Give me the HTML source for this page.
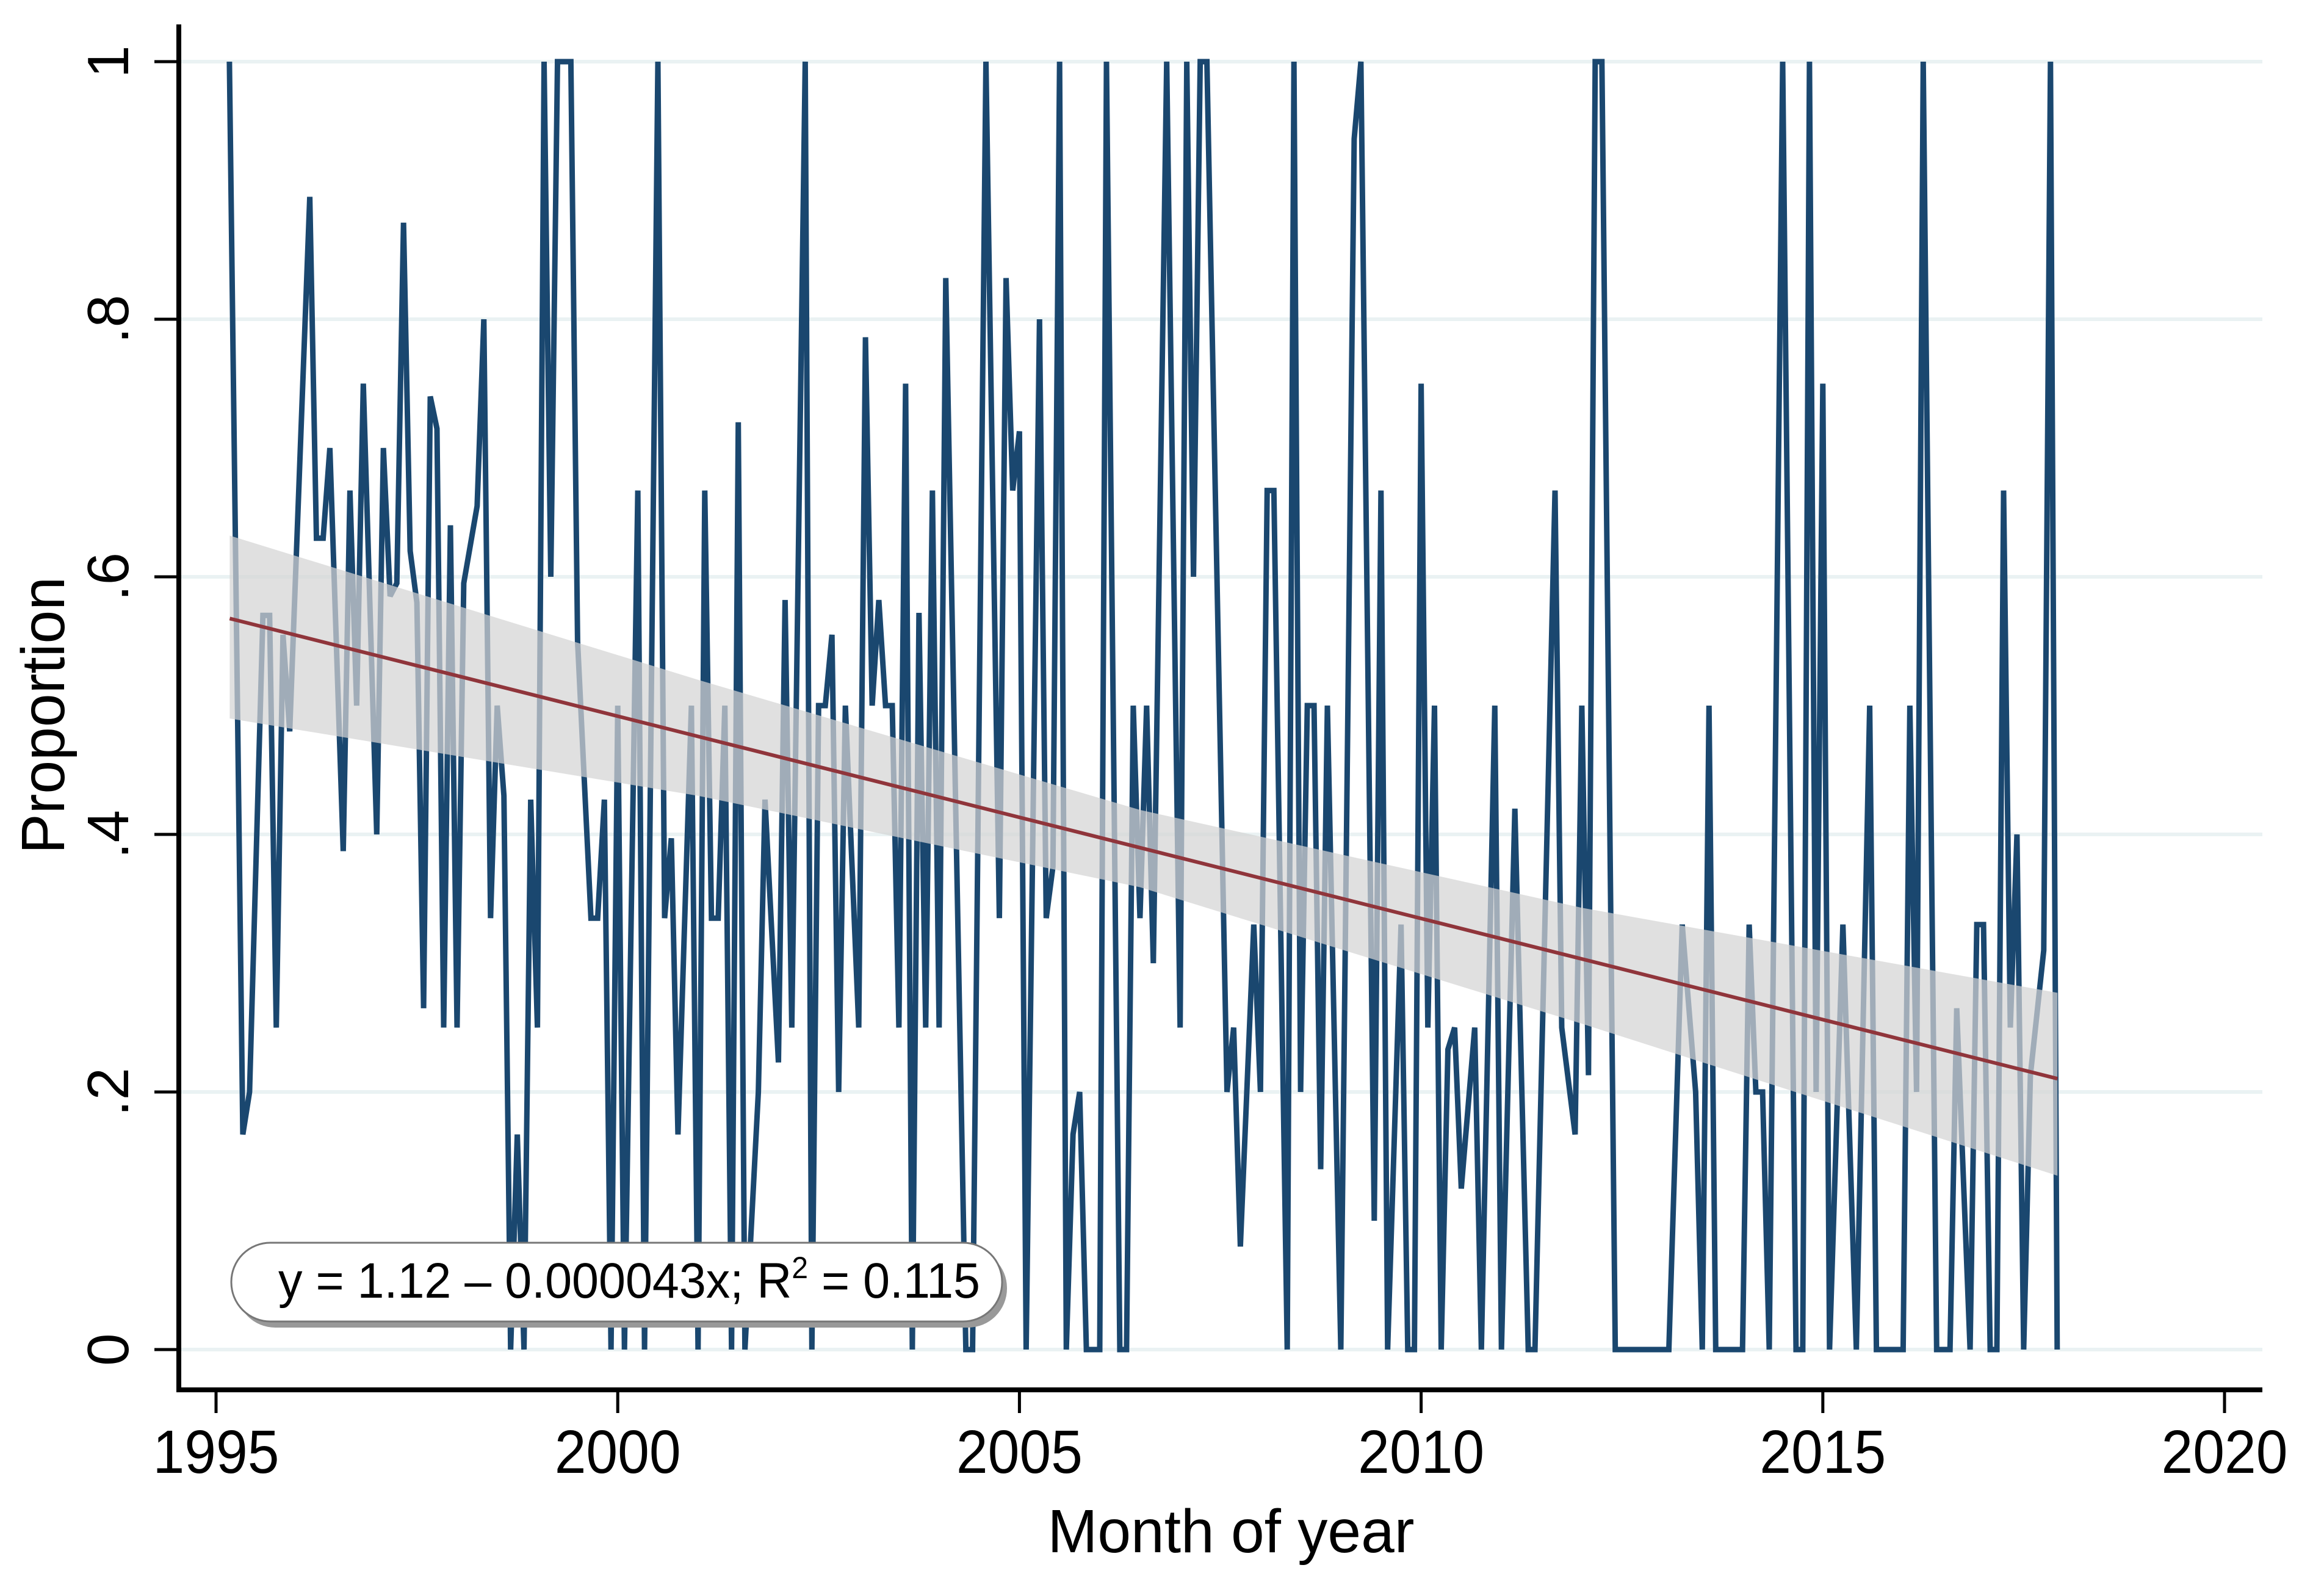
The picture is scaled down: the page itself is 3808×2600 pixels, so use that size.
<!DOCTYPE html>
<html><head><meta charset="utf-8"><style>
html,body{margin:0;padding:0;background:#fff;}
svg{display:block;}
text{font-family:"Liberation Sans",Arial,sans-serif;fill:#000;}
</style></head><body>
<svg id="chart" width="3808" height="2600" viewBox="0 0 3808 2600" xmlns="http://www.w3.org/2000/svg">
<rect x="0" y="0" width="3808" height="2600" fill="#fff"/>
<g id="grid"></g>
<g id="series"></g>
<g id="band"></g>
<g id="fit"></g>
<g id="axes"></g>
<g>
<rect x="387" y="2046" width="1263" height="129" rx="64" ry="64" fill="#999"/>
<rect x="379" y="2036" width="1263" height="129" rx="64" ry="64" fill="#fff" stroke="#777" stroke-width="3"/>
<text x="456" y="2126" font-size="82" textLength="1150" lengthAdjust="spacingAndGlyphs">y = 1.12 – 0.000043x; R<tspan font-size="50" dy="-32">2</tspan><tspan dy="32"> = 0.115</tspan></text>
</g>
<text x="2017" y="2543" font-size="100" text-anchor="middle" textLength="601" lengthAdjust="spacingAndGlyphs">Month of year</text>
<text transform="translate(105,1172) rotate(-90)" font-size="100" text-anchor="middle" textLength="454" lengthAdjust="spacingAndGlyphs">Proportion</text>
</svg>
<script>
// ---- data ----
const monthIdx = [2,4,5,7,8,9,10,11,14,15,16,17,19,20,21,22,24,25,26,27,28,29,30,31,32,33,34,35,36,37,39,40,41,42,43,44,45,46,47,48,49,50,51,53,54,56,57,58,59,60,61,63,64,66,67,68,69,71,72,73,74,75,76,77,78,79,80,81,82,84,85,86,88,89,90,91,92,93,94,96,97,98,99,100,101,102,103,104,105,106,107,108,109,112,113,115,117,118,119,120,121,123,124,125,126,127,128,129,130,132,133,135,136,137,138,139,140,142,144,145,146,147,148,151,152,153,155,156,157,158,160,161,162,163,164,165,166,168,170,171,173,174,175,177,178,179,180,181,182,183,184,185,186,188,189,191,192,194,196,197,200,201,203,204,205,206,207,209,217,219,221,222,223,224,228,229,230,231,232,234,236,237,238,239,240,241,243,245,247,248,252,253,254,255,257,259,260,262,263,264,265,266,267,268,269,270,271,273,274,275];
const proportion = [1.0,0.167,0.2,0.57,0.57,0.25,0.555,0.48,0.895,0.63,0.63,0.70,0.387,0.667,0.5,0.75,0.40,0.70,0.585,0.595,0.875,0.62,0.58,0.265,0.74,0.715,0.25,0.64,0.25,0.595,0.655,0.8,0.335,0.5,0.43,0,0.167,0,0.427,0.25,1.0,0.6,1.0,1.0,0.55,0.335,0.335,0.427,0,0.5,0,0.667,0,1.0,0.335,0.397,0.167,0.5,0,0.667,0.335,0.335,0.5,0,0.72,0,0.1,0.2,0.427,0.223,0.582,0.25,1.0,0,0.5,0.5,0.555,0.2,0.5,0.25,0.786,0.5,0.582,0.5,0.5,0.25,0.75,0,0.572,0.25,0.667,0.25,0.832,0,0,1.0,0.335,0.832,0.667,0.713,0,0.8,0.335,0.375,1.0,0,0.167,0.2,0,0,1.0,0,0,0.5,0.335,0.5,0.3,1.0,0.25,1.0,0.6,1.0,1.0,0.2,0.25,0.08,0.33,0.2,0.667,0.667,0,1.0,0.2,0.5,0.5,0.14,0.5,0,0.94,1.0,0.1,0.667,0,0.33,0,0,0.75,0.25,0.5,0,0.233,0.25,0.125,0.25,0,0.5,0,0.42,0,0,0.667,0.25,0.167,0.5,0.213,1.0,1.0,0,0,0.33,0.2,0,0.5,0,0,0.33,0.2,0.2,0,1.0,0,0,1.0,0.2,0.75,0,0.33,0,0.5,0,0,0.5,0.2,1.0,0,0,0.265,0,0.33,0.33,0,0,0.667,0.25,0.4,0,0.213,0.31,1.0,0];
const fitIntercept = 1.12;
const fitSlope = -0.000043; // per day since 1960
const fitYears = [1995.17, 2017.92];
const ciYears = [1995.17, 2001, 2006.5, 2012, 2017.92];
const ciLower = [0.49, 0.430, 0.359, 0.253, 0.135];
const ciUpper = [0.632, 0.520, 0.419, 0.343, 0.277];
const xTicks = [1995, 2000, 2005, 2010, 2015, 2020];
const yTicks = [0, 0.2, 0.4, 0.6, 0.8, 1];
const yTickLabels = ["0", ".2", ".4", ".6", ".8", "1"];

// ---- scales ----
const X0 = 354, PXY = 131.64, Y0 = 2211, Y1 = 101;
const xs = yr => X0 + (yr - 1995) * PXY;
const ys = v => Y0 - v * (Y0 - Y1);
const NS = "http://www.w3.org/2000/svg";
function mk(tag, attrs, parent) {
  const e = document.createElementNS(NS, tag);
  for (const k in attrs) e.setAttribute(k, attrs[k]);
  parent.appendChild(e);
  return e;
}
const PL = 293, PR = 3707, PT = 40, PB = 2277;

// gridlines
const gGrid = document.getElementById('grid');
yTicks.forEach((t) => {
  const l = mk('line', {x1: PL, x2: PR, y1: ys(t), y2: ys(t), stroke: '#eaf2f3', 'stroke-width': 6}, gGrid);
  
  
});

// series
const gS = document.getElementById('series');
const pts = monthIdx.map((m, i) => xs(1995 + m / 12).toFixed(1) + ',' + ys(proportion[i]).toFixed(1)).join(' ');
const pl = mk('polyline', {points: pts, fill: 'none', stroke: '#1a476f', 'stroke-width': 9, 'stroke-linejoin': 'miter', 'stroke-miterlimit': 2}, gS);



// CI band
const gB = document.getElementById('band');
let bp = ciYears.map((y, i) => xs(y) + ',' + ys(ciUpper[i]));
bp = bp.concat(ciYears.slice().reverse().map((y, i) => xs(y) + ',' + ys(ciLower[ciYears.length - 1 - i])));
const band = mk('polygon', {points: bp.join(' '), fill: '#d4d4d4', 'fill-opacity': 0.72}, gB);



// fit line
const gF = document.getElementById('fit');
const fv = y => fitIntercept + fitSlope * (y - 1960) * 365.25;
const fl = mk('line', {x1: xs(fitYears[0]), y1: ys(fv(fitYears[0])), x2: xs(fitYears[1]), y2: ys(fv(fitYears[1])), stroke: '#90353b', 'stroke-width': 6}, gF);



// axes
const gA = document.getElementById('axes');
const ya = mk('line', {x1: PL, x2: PL, y1: PT, y2: PB + 4, stroke: '#000', 'stroke-width': 8}, gA);


const xa = mk('line', {x1: PL - 4, x2: PR, y1: PB, y2: PB, stroke: '#000', 'stroke-width': 8}, gA);


xTicks.forEach(t => {
  const tk = mk('line', {x1: xs(t), x2: xs(t), y1: PB, y2: PB + 38, stroke: '#000', 'stroke-width': 5}, gA);
  
  
  const tx = mk('text', {x: xs(t), y: 2413, 'font-size': 100, 'text-anchor': 'middle', textLength: 207, lengthAdjust: 'spacingAndGlyphs'}, gA);
  tx.textContent = String(t);
  
  
});
yTicks.forEach((t, i) => {
  const tk = mk('line', {x1: PL - 40, x2: PL, y1: ys(t), y2: ys(t), stroke: '#000', 'stroke-width': 5}, gA);
  
  
  const tx = mk('text', {transform: 'translate(210,' + ys(t) + ') rotate(-90)', 'font-size': 96, 'text-anchor': 'middle'}, gA);
  tx.textContent = yTickLabels[i];
  
  
});
</script>
</body></html>
